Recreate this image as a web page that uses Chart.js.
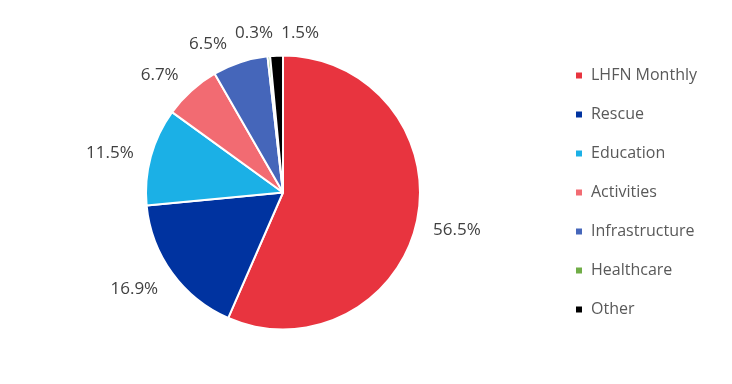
<!DOCTYPE html>
<html>
<head>
<meta charset="utf-8">
<script src="https://cdn.jsdelivr.net/npm/chart.js@4"></script>
<style>
  body { margin: 0; background: #fff; }
  #wrap { width: 732px; height: 384px; }
</style>
</head>
<body>
<div id="wrap"><canvas id="chart" width="732" height="384"></canvas></div>
<script>
var categories = ["LHFN Monthly", "Rescue", "Education", "Activities", "Infrastructure", "Healthcare", "Other"];
var shares = [56.5, 16.9, 11.5, 6.7, 6.5, 0.3, 1.5];
var colours = ["#E8343F", "#0033A0", "#1BB0E6", "#F26B72", "#4566BA", "#70AD47", "#000000"];

// percentage labels outside the slices, best-fit style nudges (degrees) to keep them apart
var labelNudge = [0, 3.3, -2.2, -4.1, -8.4, -4.3, 8.8];

var outsideLabels = {
    id: "outsideLabels",
    afterDatasetsDraw: function (chart) {
        var ctx = chart.ctx;
        var arcs = chart.getDatasetMeta(0).data;
        ctx.save();
        ctx.font = "17px 'Open Sans'";
        ctx.fillStyle = "#404040";
        ctx.textAlign = "center";
        ctx.textBaseline = "middle";
        arcs.forEach(function (arc, i) {
            var p = arc.getProps(["x", "y", "startAngle", "endAngle", "outerRadius"], true);
            var mid = (p.startAngle + p.endAngle) / 2 + labelNudge[i] * Math.PI / 180;
            var ux = Math.cos(mid), uy = Math.sin(mid);
            var text = shares[i].toFixed(1) + "%";
            var w = ctx.measureText(text).width, h = 13;
            var d = p.outerRadius + 16 + Math.abs(ux) * w / 2 + Math.abs(uy) * h / 2;
            ctx.fillText(text, p.x + ux * d, p.y + uy * d + 1);
        });
        ctx.restore();
    }
};

var ctx = document.getElementById("chart").getContext("2d");
var chart = new Chart(ctx, {
    type: "pie",
    data: {
        labels: categories,
        datasets: [{
            data: shares,
            backgroundColor: colours,
            borderColor: "#ffffff",
            borderWidth: 2,
            radius: 137
        }]
    },
    options: {
        responsive: false,
        animation: false,
        layout: { padding: { left: 14, right: 25, top: 1 } },
        plugins: {
            legend: {
                position: "right",
                labels: {
                    boxWidth: 8,
                    boxHeight: 8,
                    padding: 23,
                    color: "#595959",
                    font: { family: "'Open Sans'", size: 16 }
                }
            },
            tooltip: { enabled: false }
        }
    },
    plugins: [outsideLabels]
});
</script>
</body>
</html>
